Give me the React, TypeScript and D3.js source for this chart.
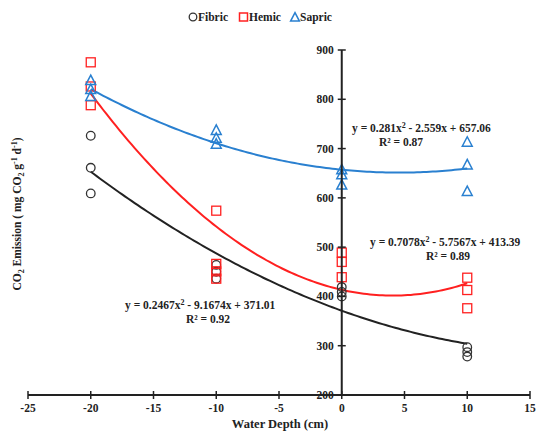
import React from "react";
import * as d3 from "d3";

const W = 541;
const H = 434;

const xTicks = [-25, -20, -15, -10, -5, 0, 5, 10, 15];
const yTicks = [200, 300, 400, 500, 600, 700, 800, 900];

const fibricX = [-20, -20, -20, -10, -10, -10, 0, 0, 0, 10, 10, 10];
const fibricY = [726, 661, 609, 464, 450, 436, 419, 409, 400, 297, 287, 278];
const hemicX = [-20, -20, -20, -10, -10, -10, -10, 0, 0, 0, 10, 10, 10];
const hemicY = [875, 826, 788, 574, 466, 451, 436, 489, 470, 439, 438, 413, 376];
const sapricX = [-20, -20, -20, -10, -10, -10, 0, 0, 0, 10, 10, 10];
const sapricY = [838, 820, 806, 737, 721, 709, 657, 647, 626, 713, 667, 613];

const fibricCoef = [0.2467, -9.1674, 371.01];
const hemicCoef = [0.7078, -5.7567, 413.39];
const sapricCoef = [0.281, -2.559, 657.06];

const BLACK = "#222";
const RED = "#ff2020";
const BLUE = "#2a80d0";
const FONT = "'Liberation Serif', 'Times New Roman', serif";

const x = d3.scaleLinear().domain([-25, 15]).range([28, 530]);
const y = d3.scaleLinear().domain([200, 900]).range([395, 50]);

function curve(coef: number[]) {
  const pts: [number, number][] = [];
  for (let v = -20; v <= 10.0001; v += 0.25) {
    pts.push([v, coef[0] * v * v + coef[1] * v + coef[2]]);
  }
  const line = d3
    .line<[number, number]>()
    .x((d) => x(d[0]))
    .y((d) => y(d[1]))
    .curve(d3.curveLinear);
  return line(pts) || "";
}

const triPath = (cx: number, cy: number, s: number) =>
  `M${cx},${cy - s * 0.6}L${cx + s * 0.55},${cy + s * 0.45}L${cx - s * 0.55},${cy + s * 0.45}Z`;

export default function App() {
  const tf = { fontFamily: FONT, fontWeight: 700, fontSize: 11.5, fill: "#222" } as const;
  return (
    <svg
      width={W}
      height={H}
      style={{ position: "absolute", left: 0, top: 0, background: "#fff" }}
    >
      {/* curves */}
      <path d={curve(fibricCoef)} fill="none" stroke={BLACK} strokeWidth={2} />
      <path d={curve(hemicCoef)} fill="none" stroke={RED} strokeWidth={2} />
      <path d={curve(sapricCoef)} fill="none" stroke={BLUE} strokeWidth={2} />

      {/* markers */}
      {fibricX.map((v, i) => (
        <circle key={"f" + i} cx={x(v)} cy={y(fibricY[i])} r={4.3} fill="none" stroke="#333" strokeWidth={1.3} />
      ))}
      {hemicX.map((v, i) => (
        <rect key={"h" + i} x={x(v) - 4.5} y={y(hemicY[i]) - 4.5} width={9} height={9} fill="none" stroke={RED} strokeWidth={1.3} />
      ))}
      {sapricX.map((v, i) => (
        <path key={"s" + i} d={triPath(x(v), y(sapricY[i]), 9)} fill="none" stroke={BLUE} strokeWidth={1.5} />
      ))}

      {/* x axis */}
      <line x1={x(-25)} x2={x(15)} y1={y(200)} y2={y(200)} stroke="#222" strokeWidth={2} />
      {xTicks.map((t) => (
        <g key={"xt" + t}>
          <line x1={x(t)} x2={x(t)} y1={y(200) - 4} y2={y(200) + 4} stroke="#222" strokeWidth={1.5} />
          <text x={x(t)} y={y(200) + 17} textAnchor="middle" {...tf}>
            {t}
          </text>
        </g>
      ))}

      {/* y axis */}
      <line x1={x(0)} x2={x(0)} y1={y(900)} y2={y(200)} stroke="#222" strokeWidth={2} />
      {yTicks.map((t) => (
        <g key={"yt" + t}>
          <line x1={x(0) - 4} x2={x(0) + 4} y1={y(t)} y2={y(t)} stroke="#222" strokeWidth={1.5} />
          <text x={x(0) - 8} y={y(t) + 4} textAnchor="end" {...tf}>
            {t}
          </text>
        </g>
      ))}

      {/* axis titles */}
      <text x={280} y={428} textAnchor="middle" {...tf} fontSize={12.5}>
        Water Depth (cm)
      </text>
      <text
        transform={`translate(21,214) rotate(-90)`}
        textAnchor="middle"
        {...tf}
        fontSize={11.5}
      >
        CO<tspan fontSize={8} dy={3}>2</tspan>
        <tspan dy={-3}> Emission ( mg CO</tspan>
        <tspan fontSize={8} dy={3}>2</tspan>
        <tspan dy={-3}> g</tspan>
        <tspan fontSize={8} dy={-4}>-1</tspan>
        <tspan dy={4}> d</tspan>
        <tspan fontSize={8} dy={-4}>-1</tspan>
        <tspan dy={4}>)</tspan>
      </text>

      {/* equations */}
      <text x={352} y={132} {...tf}>
        y = 0.281x<tspan fontSize={8} dy={-4}>2</tspan>
        <tspan dy={4}> - 2.559x + 657.06</tspan>
      </text>
      <text x={401} y={146} textAnchor="middle" {...tf}>
        R² = 0.87
      </text>
      <text x={370} y={246} {...tf}>
        y = 0.7078x<tspan fontSize={8} dy={-4}>2</tspan>
        <tspan dy={4}> - 5.7567x + 413.39</tspan>
      </text>
      <text x={448} y={260} textAnchor="middle" {...tf}>
        R² = 0.89
      </text>
      <text x={125} y={309} {...tf}>
        y = 0.2467x<tspan fontSize={8} dy={-4}>2</tspan>
        <tspan dy={4}> - 9.1674x + 371.01</tspan>
      </text>
      <text x={208} y={323} textAnchor="middle" {...tf}>
        R² = 0.92
      </text>

      {/* legend */}
      <circle cx={193} cy={17} r={3.8} fill="none" stroke="#333" strokeWidth={1.3} />
      <text x={198} y={21} {...tf}>Fibric</text>
      <rect x={239.5} y={13} width={8} height={8} fill="none" stroke={RED} strokeWidth={1.5} />
      <text x={249} y={21} {...tf}>Hemic</text>
      <path d={triPath(295, 17.5, 8)} fill="none" stroke={BLUE} strokeWidth={1.5} />
      <text x={300} y={21} {...tf}>Sapric</text>
    </svg>
  );
}
